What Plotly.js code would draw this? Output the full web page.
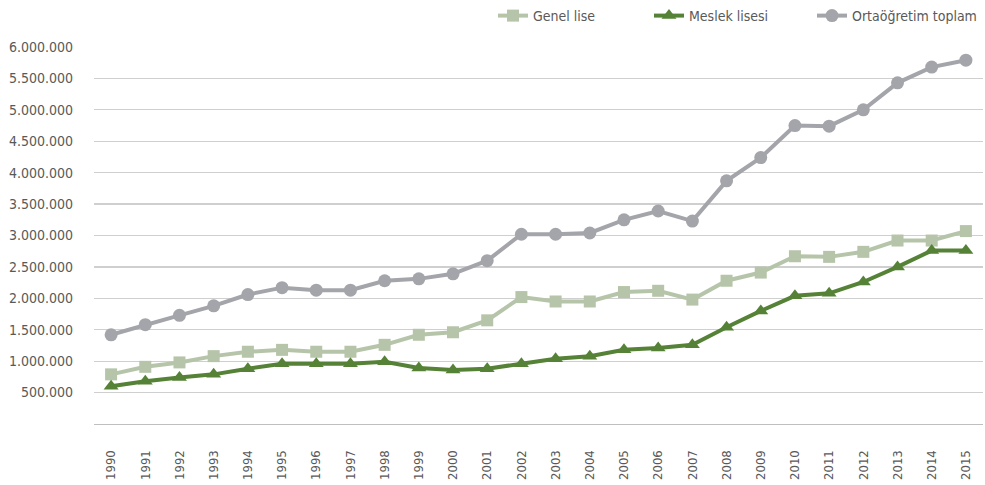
<!DOCTYPE html>
<html>
<head>
<meta charset="utf-8">
<script src="https://cdn.plot.ly/plotly-3.0.1.min.js"></script>
<style>
  html, body { margin: 0; padding: 0; background: #ffffff; }
  #chart { width: 985px; height: 485px; }
</style>
</head>
<body>
<div id="chart"></div>
<script>
const years = ['1990','1991','1992','1993','1994','1995','1996','1997','1998','1999','2000','2001','2002',
               '2003','2004','2005','2006','2007','2008','2009','2010','2011','2012','2013','2014','2015'];
const genelLise = [790000, 910000, 980000, 1080000, 1150000, 1180000, 1150000, 1150000, 1260000, 1420000, 1460000, 1650000, 2020000,
                   1950000, 1950000, 2100000, 2120000, 1980000, 2280000, 2410000, 2670000, 2660000, 2740000, 2920000, 2920000, 3070000];
const meslekLisesi = [600000, 680000, 740000, 790000, 880000, 960000, 960000, 960000, 990000, 890000, 860000, 880000, 960000,
                      1040000, 1080000, 1180000, 1210000, 1260000, 1540000, 1800000, 2040000, 2080000, 2260000, 2500000, 2760000, 2760000];
const ortaogretimToplam = [1420000, 1580000, 1730000, 1880000, 2060000, 2170000, 2130000, 2130000, 2280000, 2310000, 2390000, 2600000, 3020000,
                           3020000, 3040000, 3250000, 3390000, 3230000, 3870000, 4240000, 4750000, 4740000, 5000000, 5430000, 5680000, 5790000];
const seriesNames = ['Genel lise', 'Meslek lisesi', 'Ortaöğretim toplam'];
const yTickVals = [500000, 1000000, 1500000, 2000000, 2500000, 3000000, 3500000, 4000000, 4500000, 5000000, 5500000, 6000000];

const FONT = '"DejaVu Sans Condensed", "Liberation Sans Narrow", Arial, sans-serif';
const TEXT = '#595959';

const traces = [
  {
    x: years, y: genelLise, name: seriesNames[0], type: 'scatter', mode: 'lines+markers',
    line: { color: '#b6c5a9', width: 4 },
    marker: { symbol: 'square', size: 12, color: '#b6c5a9' },
    legend: 'legend', cliponaxis: false
  },
  {
    x: years, y: meslekLisesi, name: seriesNames[1], type: 'scatter', mode: 'lines+markers',
    line: { color: '#558236', width: 4 },
    marker: { symbol: 'triangle-up', size: 13, color: '#558236' },
    legend: 'legend2', cliponaxis: false
  },
  {
    x: years, y: ortaogretimToplam, name: seriesNames[2], type: 'scatter', mode: 'lines+markers',
    line: { color: '#a4a5aa', width: 4 },
    marker: { symbol: 'circle', size: 13, color: '#a4a5aa' },
    legend: 'legend3', cliponaxis: false
  }
];

function legendAt(xpx) {
  return {
    xref: 'container', yref: 'container',
    x: xpx / 985, y: 1 - 16 / 485, xanchor: 'left', yanchor: 'middle',
    orientation: 'h', font: { family: FONT, size: 14, color: TEXT },
    bgcolor: 'rgba(0,0,0,0)', borderwidth: 0
  };
}

const layout = {
  width: 985, height: 485,
  margin: { l: 94, r: 2, t: 47, b: 61 },
  paper_bgcolor: '#ffffff', plot_bgcolor: '#ffffff',
  separators: ',.',
  font: { family: FONT, size: 14, color: TEXT },
  showlegend: true,
  legend: legendAt(493),
  legend2: legendAt(649),
  legend3: legendAt(812),
  xaxis: {
    type: 'category',
    range: [-0.5, years.length - 0.5],
    tickangle: -90,
    showgrid: false,
    showline: true, linecolor: '#bfbfbf', linewidth: 1,
    ticks: '', ticklabelstandoff: 20,
    tickfont: { family: FONT, size: 13, color: TEXT },
    zeroline: false, fixedrange: true
  },
  yaxis: {
    range: [0, 6000000],
    tickmode: 'array', tickvals: yTickVals,
    tickformat: ',d',
    showgrid: true, gridcolor: '#cfcfcf', gridwidth: 1.2,
    zeroline: false, showline: false, ticks: '',
    ticklabelstandoff: 20,
    tickfont: { family: FONT, size: 14, color: TEXT },
    fixedrange: true
  }
};

Plotly.newPlot('chart', traces, layout, { displayModeBar: false, staticPlot: true });
</script>
</body>
</html>
